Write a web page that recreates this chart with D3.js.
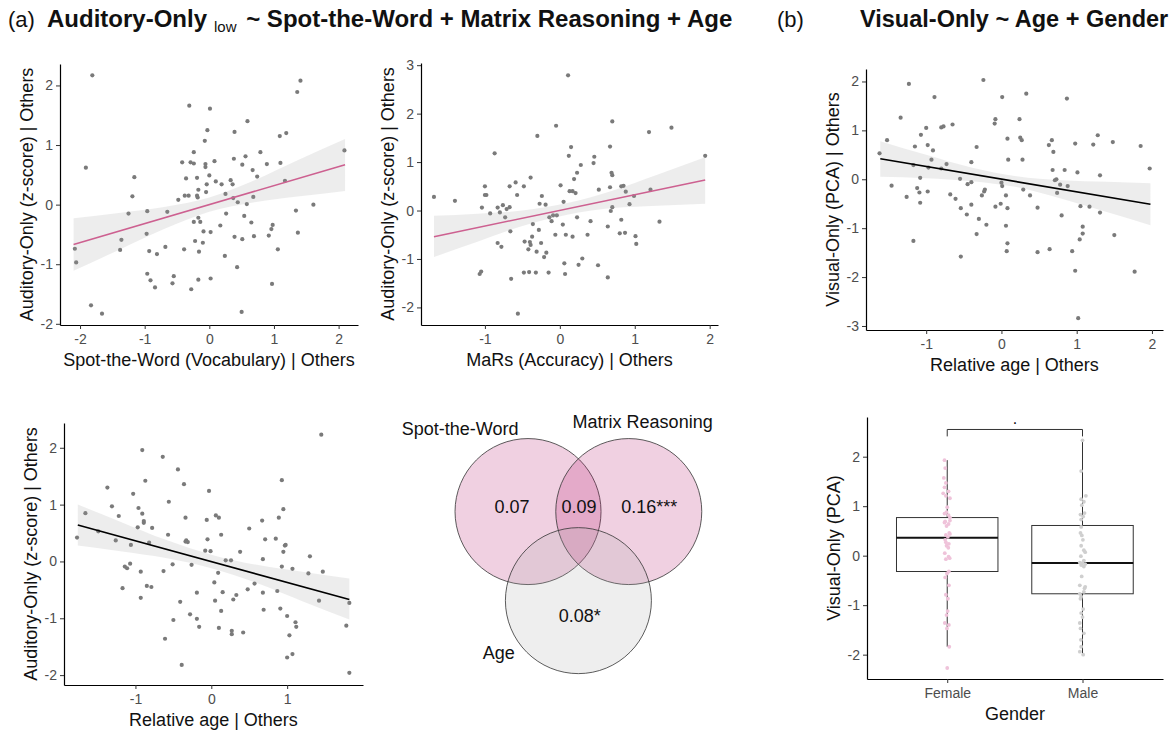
<!DOCTYPE html>
<html>
<head>
<meta charset="utf-8">
<script src="https://cdn.jsdelivr.net/npm/d3@7"></script>
<style>
  body { margin: 0; background: #fff; }
  svg text { font-family: "Liberation Sans", Arial, sans-serif; }
  .axis .domain { stroke: #000; stroke-width: 1.2; }
  .axis .tick line { stroke: #333; stroke-width: 1; }
  .axis .tick text { fill: #4d4d4d; font-size: 14px; }
</style>
</head>
<body>
<div id="chart"></div>
<script>
// ---- data ----

// (a) top left: Auditory-Only | Others vs Spot-the-Word | Others
var swX = [-1.81,-1.91,-1.16,-1.19,-1.25,-1.36,-1.38,-2.08,-2.06,-1.83,-1.66,-0.96,-0.97,-0.93,-0.81,-0.96,-0.91,-0.84,-0.65,-0.68,-0.55,-0.57,-0.48,-0.42,-0.39,-0.36,-0.38,-0.32,-0.31,-0.29,-0.28,-0.24,-0.24,-0.24,-0.22,-0.19,-0.19,-0.18,-0.17,-0.17,-0.16,-0.14,-0.17,-0.10,-0.09,-0.07,-0.06,-0.06,-0.05,-0.04,-0.03,0.00,0.01,0.02,0.02,0.08,0.10,0.17,0.19,0.24,0.25,0.26,0.33,0.36,0.38,0.39,0.39,0.43,0.44,0.37,0.51,0.51,0.54,0.56,0.58,0.59,0.50,0.65,0.67,0.68,0.74,0.69,0.79,0.89,0.92,0.96,0.98,0.97,1.06,1.09,1.10,1.17,1.19,1.34,1.37,1.36,1.41,1.61,2.09];
var swY = [2.17,0.62,0.46,0.14,-0.15,-0.59,-0.76,-0.74,-0.97,-1.69,-1.83,-0.11,-0.49,-0.78,-0.83,-1.16,-1.27,-1.39,-0.12,-0.71,-1.20,-1.32,0.08,0.71,-0.75,0.44,0.15,0.15,1.66,0.71,-1.42,0.88,0.69,-0.29,-0.61,0.45,0.15,0.12,0.25,-0.22,-0.79,-0.29,-1.26,-0.64,-0.45,1.07,0.68,0.63,0.21,0.34,1.25,0.49,1.61,-0.46,-1.24,0.73,0.39,-0.35,0.34,-0.86,0.18,-0.15,0.41,0.34,0.77,1.22,-0.54,-1.05,0.04,0.11,-0.58,0.67,-0.19,0.81,0.01,1.40,-1.80,-0.30,0.58,0.13,0.47,-0.53,0.88,0.68,-0.52,-0.41,-0.34,-1.33,-0.75,1.15,0.70,0.40,1.20,-0.10,-0.47,1.89,2.08,0.00,0.91];
var swFitX = [-2.1, 2.1], swFitY = [-0.67, 0.67];
var swBandX  = [-2.1, -1.4, -0.7, 0, 0.7, 1.4, 2.1];
var swBandLo = [-1.11, -0.76, -0.41, -0.12, 0.04, 0.14, 0.23];
var swBandHi = [-0.23, -0.14, -0.04, 0.12, 0.41, 0.76, 1.10];

// (a) top middle: vs MaRs (Accuracy) | Others
var marsX = [-1.68,-1.40,-1.04,-1.00,-1.00,-0.98,-0.93,-0.87,-0.83,-0.83,-0.80,-0.78,-0.76,-0.73,-0.71,-0.67,-0.67,-0.66,-0.65,-1.07,-1.05,-0.59,-0.57,-0.56,-0.48,-0.48,-0.47,-0.42,-0.41,-0.40,-0.39,-0.39,-0.37,-0.36,-0.32,-0.31,-0.30,-0.28,-0.27,-0.25,-0.24,-0.21,-0.19,-0.18,-0.15,-0.14,-0.11,-0.09,-0.06,-0.05,-0.04,0.01,0.04,0.05,0.06,0.07,0.08,0.11,0.12,0.13,0.15,0.17,0.17,0.19,0.21,0.23,0.23,0.25,0.28,0.30,0.37,0.41,0.45,0.46,0.51,0.52,0.64,0.64,0.67,0.67,0.68,0.69,0.70,0.70,0.70,0.80,0.82,0.82,0.85,0.87,0.88,0.93,0.99,1.01,1.02,1.19,1.21,1.33,1.49,1.94];
var marsY = [0.28,0.20,0.06,0.50,0.32,0.32,-0.06,1.18,0.06,-0.67,-0.04,-0.75,0.11,-0.14,0.03,0.07,0.50,-0.43,-1.41,-1.31,-1.26,0.58,0.32,-2.13,0.50,-1.28,-0.64,-0.80,-1.27,-0.65,-0.71,0.68,-0.54,-0.28,-1.28,-0.85,1.54,-0.40,0.14,-0.67,0.30,-0.96,0.12,-0.87,-1.28,-0.14,-0.22,-0.10,-0.50,1.75,-0.10,0.52,-0.29,0.18,-1.09,-1.31,-0.50,2.79,1.13,0.40,1.31,0.40,-0.54,0.65,0.36,0.78,-0.14,-1.12,0.94,-0.99,-0.50,-0.22,0.98,1.11,-1.13,0.43,-0.33,-1.38,0.48,1.32,-0.01,0.78,0.73,0.07,1.84,-0.47,-0.19,0.50,0.51,-0.46,0.39,0.13,0.30,-0.53,-0.69,1.62,0.43,-0.23,1.71,1.13];
var marsFitX = [-1.68, 1.94], marsFitY = [-0.54, 0.63];
var marsBandX  = [-1.68, -1.1, -0.5, 0.1, 0.7, 1.3, 1.94];
var marsBandLo = [-0.96, -0.645, -0.32, -0.085, 0.05, 0.10, 0.14];
var marsBandHi = [-0.11, -0.065, 0.00, 0.155, 0.41, 0.74, 1.10];

// (b) top: Visual-Only (PCA) | Others vs Relative age | Others
var visAgeX = [-1.62,-1.52,-1.46,-1.34,-1.26,-1.23,-1.17,-1.17,-1.15,-1.12,-1.09,-1.08,-1.08,-1.07,-1.00,-0.98,-0.98,-0.97,-0.93,-0.91,-0.89,-0.80,-0.77,-0.80,-0.73,-0.68,-0.65,-0.61,-0.55,-0.54,-0.54,-0.46,-0.45,-0.33,-0.40,-0.40,-0.40,-0.33,-0.30,-0.26,-0.24,-0.23,-0.22,-0.20,-0.09,-0.08,-0.08,-0.01,0.00,0.01,0.01,0.06,0.07,0.08,0.08,0.08,0.09,0.06,0.24,0.25,0.27,0.28,0.29,0.33,0.38,0.48,0.48,0.63,0.64,0.67,0.68,0.69,0.71,0.73,0.74,0.78,0.80,0.84,0.88,0.87,0.94,0.98,0.98,1.01,1.02,1.04,1.05,1.08,1.08,1.17,1.22,1.28,1.31,1.31,1.48,1.50,1.77,1.85,1.97];
var visAgeY = [0.53,0.80,-0.13,1.26,-0.36,1.95,-1.26,0.29,0.67,-0.18,-0.27,-0.48,0.03,0.91,1.05,-0.25,0.70,0.24,0.40,0.59,1.68,1.06,1.08,0.22,0.31,-0.31,1.12,-0.40,0.01,-0.59,-1.58,-0.72,-0.10,-1.12,-0.06,-0.52,0.35,0.66,-0.81,-0.33,2.03,-0.25,-0.21,-0.93,1.14,1.23,-0.56,-0.50,-0.07,-0.14,1.68,-0.33,-1.47,-0.59,-1.31,0.83,0.40,-0.95,1.23,0.85,0.80,0.40,-0.21,1.75,-0.33,-0.58,-1.49,0.70,-1.43,0.80,0.19,0.56,-0.02,0.00,-0.28,-0.11,-0.74,0.19,-0.14,1.65,-1.47,0.73,-1.87,0.14,-2.84,-1.23,-0.55,-0.97,-1.11,-0.56,0.71,0.90,-0.68,0.08,0.76,-1.14,-1.89,0.68,0.22];
var visAgeFitX = [-1.61, 1.98], visAgeFitY = [0.42, -0.51];
var visAgeBandX  = [-1.61, -1.0, -0.4, 0.2, 0.8, 1.4, 1.98];
var visAgeBandLo = [0.05, 0.02, -0.04, -0.16, -0.40, -0.67, -0.94];
var visAgeBandHi = [0.78, 0.50, 0.24, 0.06, -0.02, -0.05, -0.08];

// (a) bottom left: Auditory-Only | Others vs Relative age | Others
var audAgeX = [-1.77,-1.66,-1.49,-1.37,-1.31,-1.26,-1.22,-1.17,-1.14,-1.11,-1.07,-1.06,-1.03,-0.97,-0.96,-0.93,-0.93,-0.91,-0.91,-0.89,-0.89,-0.87,-0.85,-0.82,-0.79,-0.78,-0.64,-0.63,-0.61,-0.57,-0.56,-0.51,-0.50,-0.44,-0.41,-0.39,-0.36,-0.34,-0.34,-0.33,-0.31,-0.28,-0.26,-0.19,-0.19,-0.16,-0.08,-0.06,-0.05,-0.03,-0.01,0.04,0.05,0.06,0.10,0.09,0.10,0.13,0.13,0.15,0.19,0.26,0.27,0.27,0.29,0.33,0.38,0.42,0.48,0.50,0.57,0.67,0.68,0.68,0.69,0.71,0.85,0.87,0.89,0.91,0.93,0.93,0.95,0.95,0.97,0.98,1.00,1.00,1.03,1.07,1.07,1.11,1.12,1.28,1.30,1.42,1.45,1.47,1.78,1.82,1.82];
var audAgeY = [0.42,0.85,0.53,1.30,0.97,0.37,0.80,-0.47,-0.09,-0.12,-0.04,0.29,1.19,0.60,0.94,-0.18,-0.64,1.96,0.84,0.68,0.71,1.42,-0.43,0.33,-0.45,0.59,1.84,-0.17,-1.36,0.47,1.05,-0.05,-1.03,1.62,-0.71,-1.82,1.36,0.77,0.35,0.37,0.34,-0.93,-0.06,-1.01,-0.55,-1.15,0.19,0.73,0.39,1.24,0.18,-0.37,-0.69,0.81,0.77,-0.20,-1.17,0.47,-0.87,-0.54,0.02,0.02,-1.22,-1.28,-0.67,-0.59,0.17,-1.25,-0.49,0.58,-0.39,0.72,0.04,-0.55,-0.85,0.39,0.40,-0.52,0.77,-0.83,1.43,-0.09,0.92,0.17,0.28,0.29,-0.96,-1.69,-1.30,-1.63,-0.13,-1.07,-1.15,-0.21,0.09,-0.69,2.23,-0.18,-1.13,-0.73,-1.96];
var audAgeFitX = [-1.76, 1.82], audAgeFitY = [0.64, -0.67];
var audAgeBandX  = [-1.76, -1.2, -0.6, 0, 0.6, 1.2, 1.82];
var audAgeBandLo = [0.28, 0.18, 0.06, -0.12, -0.38, -0.70, -1.02];
var audAgeBandHi = [1.00, 0.70, 0.38, 0.12, -0.06, -0.18, -0.30];

// (a) Venn of unique / shared variance
var vennSets   = ["Spot-the-Word", "Matrix Reasoning", "Age"];
var vennValues = ["0.07", "0.09", "0.16***", "0.08*"];

// (b) bottom: Visual-Only (PCA) by gender
var genders = ["Female", "Male"];
var boxLow  = [-1.84, -2.00];
var boxQ1   = [-0.32, -0.77];
var boxMed  = [0.36, -0.15];
var boxQ3   = [0.77, 0.61];
var boxHigh = [1.93, 2.33];
var femaleVals = [1.93,1.77,1.57,1.47,1.38,1.30,1.26,1.21,1.16,0.98,0.88,0.85,0.82,0.77,0.71,0.69,0.67,0.64,0.60,0.46,0.44,0.42,0.38,0.32,0.27,0.24,0.20,0.16,0.05,-0.02,-0.05,-0.07,-0.32,-0.36,-0.44,-0.60,-0.79,-0.87,-1.12,-1.20,-1.36,-1.40,-1.47,-1.84,-2.27];
var femaleJitter = [-0.02,-0.015,-0.025,-0.01,-0.02,0.01,-0.03,-0.01,0.02,0,-0.005,-0.02,0.01,0.02,0.02,-0.015,-0.02,0.01,-0.005,0.015,0.02,-0.01,0.005,-0.015,-0.01,0.012,-0.005,0.008,-0.018,0.01,0.018,-0.01,0.012,-0.002,-0.015,0.013,-0.01,0.005,0.003,-0.005,-0.018,0.012,-0.002,0.015,0];
var maleVals = [2.33,1.71,1.21,1.14,1.09,1.02,0.86,0.83,0.79,0.73,0.58,0.46,0.41,0.32,0.20,0.11,0.07,-0.01,-0.10,-0.14,-0.15,-0.17,-0.19,-0.22,-0.42,-0.60,-0.63,-0.66,-0.73,-0.77,-0.83,-0.87,-1.08,-1.16,-1.24,-1.36,-1.47,-1.57,-1.70,-1.84,-1.94,-2.00];
var maleJitter = [0,-0.01,0.025,-0.01,0.01,-0.005,0.015,-0.015,0.005,-0.01,-0.01,-0.015,-0.005,0.003,-0.01,0.01,0.02,-0.012,0.01,-0.02,0,0.02,-0.01,0.01,-0.006,-0.02,0.02,0.015,0.01,-0.02,-0.01,-0.015,0.005,-0.01,0,-0.02,-0.015,0.01,-0.012,-0.01,-0.02,0.005];
var sigBracket = 2.55, sigTip = 2.41, sigLabelY = 2.71, sigLabel = ".";

// ---- drawing ----

var W = 1174, H = 730;
var svg = d3.select("#chart").append("svg")
  .attr("width", W).attr("height", H)
  .style("background", "#fff");

var fmt = function(d) { return String(d); };   // ggplot style "-1", not unicode minus

function axes(g, x, y, box, xTicks, yTicks, xFormat) {
  g.append("g")
    .attr("class", "axis")
    .attr("transform", "translate(0," + box.y1 + ")")
    .call(d3.axisBottom(x).tickValues(xTicks).tickFormat(xFormat || fmt)
      .tickSize(4).tickPadding(5).tickSizeOuter(0));
  g.append("g")
    .attr("class", "axis")
    .attr("transform", "translate(" + box.x0 + ",0)")
    .call(d3.axisLeft(y).tickValues(yTicks).tickFormat(fmt)
      .tickSize(4).tickPadding(3).tickSizeOuter(0));
}

function titles(g, box, xTitle, yTitle) {
  g.append("text")
    .attr("x", (box.x0 + box.x1) / 2).attr("y", box.y1 + 41)
    .attr("text-anchor", "middle")
    .style("font-size", "18px").style("fill", "#111")
    .text(xTitle);
  var cy = (box.y0 + box.y1) / 2;
  g.append("text")
    .attr("transform", "translate(" + (box.x0 - 27) + "," + cy + ") rotate(-90)")
    .attr("text-anchor", "middle")
    .style("font-size", "18px").style("fill", "#111")
    .text(yTitle);
}

function scatter(cfg) {
  var box = cfg.box;
  var x = d3.scaleLinear().domain(cfg.xDomain).range([box.x0, box.x1]);
  var y = d3.scaleLinear().domain(cfg.yDomain).range([box.y1, box.y0]);
  var g = svg.append("g");

  g.selectAll(".pt")
    .data(d3.range(cfg.xs.length))
    .enter().append("circle")
    .attr("cx", function(i) { return x(cfg.xs[i]); })
    .attr("cy", function(i) { return y(cfg.ys[i]); })
    .attr("r", 2.1)
    .attr("fill", "#7a7a7a");

  var area = d3.area()
    .x(function(i) { return x(cfg.bandX[i]); })
    .y0(function(i) { return y(cfg.bandLo[i]); })
    .y1(function(i) { return y(cfg.bandHi[i]); })
    .curve(d3.curveMonotoneX);
  g.append("path")
    .attr("d", area(d3.range(cfg.bandX.length)))
    .attr("fill", "#999").attr("fill-opacity", 0.18);

  g.append("line")
    .attr("x1", x(cfg.fitX[0])).attr("y1", y(cfg.fitY[0]))
    .attr("x2", x(cfg.fitX[1])).attr("y2", y(cfg.fitY[1]))
    .attr("stroke", cfg.lineColor).attr("stroke-width", 1.6);

  axes(g, x, y, box, cfg.xTicks, cfg.yTicks);
  titles(g, box, cfg.xTitle, cfg.yTitle);
}

scatter({
  box: {x0: 60, x1: 358, y0: 64, y1: 325},
  xDomain: [-2.31, 2.30], yDomain: [-2.02, 2.36],
  xTicks: [-2, -1, 0, 1, 2], yTicks: [-2, -1, 0, 1, 2],
  xs: swX, ys: swY, fitX: swFitX, fitY: swFitY,
  bandX: swBandX, bandLo: swBandLo, bandHi: swBandHi,
  lineColor: "#cd6090",
  xTitle: "Spot-the-Word (Vocabulary) | Others",
  yTitle: "Auditory-Only (z-score) | Others"
});

scatter({
  box: {x0: 421, x1: 718, y0: 63, y1: 325},
  xDomain: [-1.853, 2.111], yDomain: [-2.363, 3.045],
  xTicks: [-1, 0, 1, 2], yTicks: [-2, -1, 0, 1, 2, 3],
  xs: marsX, ys: marsY, fitX: marsFitX, fitY: marsFitY,
  bandX: marsBandX, bandLo: marsBandLo, bandHi: marsBandHi,
  lineColor: "#cd6090",
  xTitle: "MaRs (Accuracy) | Others",
  yTitle: "Auditory-Only (z-score) | Others"
});

scatter({
  box: {x0: 866, x1: 1163, y0: 69, y1: 330},
  xDomain: [-1.80, 2.147], yDomain: [-3.082, 2.255],
  xTicks: [-1, 0, 1, 2], yTicks: [-3, -2, -1, 0, 1, 2],
  xs: visAgeX, ys: visAgeY, fitX: visAgeFitX, fitY: visAgeFitY,
  bandX: visAgeBandX, bandLo: visAgeBandLo, bandHi: visAgeBandHi,
  lineColor: "#000",
  xTitle: "Relative age | Others",
  yTitle: "Visual-Only (PCA) | Others"
});

scatter({
  box: {x0: 64, x1: 363, y0: 423, y1: 685},
  xDomain: [-1.942, 2.0], yDomain: [-2.174, 2.436],
  xTicks: [-1, 0, 1], yTicks: [-2, -1, 0, 1, 2],
  xs: audAgeX, ys: audAgeY, fitX: audAgeFitX, fitY: audAgeFitY,
  bandX: audAgeBandX, bandLo: audAgeBandLo, bandHi: audAgeBandHi,
  lineColor: "#000",
  xTitle: "Relative age | Others",
  yTitle: "Auditory-Only (z-score) | Others"
});

// ---- Venn (unit = circle radius) ----
(function() {
  var vx = d3.scaleLinear().domain([-1, 1]).range([578.4 - 73, 578.4 + 73]);
  var vy = d3.scaleLinear().domain([-1, 1]).range([541.5 - 73, 541.5 + 73]);
  var r = vx(1) - vx(0);
  var circles = [
    {cx: -0.69, cy: -0.41, fill: "#b41469"},
    {cx: 0.69, cy: -0.41, fill: "#b41469"},
    {cx: 0, cy: 0.81, fill: "#aaaaaa"}
  ];
  var g = svg.append("g");
  g.selectAll("circle.set")
    .data(circles)
    .enter().append("circle")
    .attr("cx", function(d) { return vx(d.cx); })
    .attr("cy", function(d) { return vy(d.cy); })
    .attr("r", r)
    .attr("fill", function(d) { return d.fill; })
    .attr("fill-opacity", 0.2)
    .attr("stroke", "#333").attr("stroke-width", 0.8);

  var setPos = [[-1.62, -1.55], [0.88, -1.64], [-1.09, 1.53]];
  g.selectAll("text.setname")
    .data(vennSets)
    .enter().append("text")
    .attr("x", function(d, i) { return vx(setPos[i][0]); })
    .attr("y", function(d, i) { return vy(setPos[i][1]); })
    .attr("dy", "0.35em")
    .attr("text-anchor", "middle")
    .style("font-size", "18px").style("fill", "#111")
    .text(function(d) { return d; });

  var valPos = [[-0.91, -0.47], [0.01, -0.47], [0.97, -0.47], [0.02, 1.02]];
  g.selectAll("text.val")
    .data(vennValues)
    .enter().append("text")
    .attr("x", function(d, i) { return vx(valPos[i][0]); })
    .attr("y", function(d, i) { return vy(valPos[i][1]); })
    .attr("dy", "0.35em")
    .attr("text-anchor", "middle")
    .style("font-size", "18px").style("fill", "#111")
    .text(function(d) { return d; });
})();

// ---- boxplot by gender ----
(function() {
  var box = {x0: 867, x1: 1163, y0: 417, y1: 679};
  var x = d3.scaleLinear().domain([0.407, 2.595]).range([box.x0, box.x1]);
  var y = d3.scaleLinear().domain([-2.492, 2.802]).range([box.y1, box.y0]);
  var g = svg.append("g");
  var half = 0.375;

  genders.forEach(function(name, i) {
    var c = i + 1;
    g.append("line")
      .attr("x1", x(c)).attr("x2", x(c))
      .attr("y1", y(boxQ3[i])).attr("y2", y(boxHigh[i]))
      .attr("stroke", "#333").attr("stroke-width", 1);
    g.append("line")
      .attr("x1", x(c)).attr("x2", x(c))
      .attr("y1", y(boxQ1[i])).attr("y2", y(boxLow[i]))
      .attr("stroke", "#333").attr("stroke-width", 1);
    g.append("rect")
      .attr("x", x(c - half)).attr("width", x(c + half) - x(c - half))
      .attr("y", y(boxQ3[i])).attr("height", y(boxQ1[i]) - y(boxQ3[i]))
      .attr("fill", "#fff").attr("stroke", "#333").attr("stroke-width", 1);
    g.append("line")
      .attr("x1", x(c - half)).attr("x2", x(c + half))
      .attr("y1", y(boxMed[i])).attr("y2", y(boxMed[i]))
      .attr("stroke", "#111").attr("stroke-width", 2);
  });

  var groups = [
    {c: 1, vals: femaleVals, jit: femaleJitter, color: "#efc3da"},
    {c: 2, vals: maleVals, jit: maleJitter, color: "#cfcfcf"}
  ];
  groups.forEach(function(grp) {
    g.selectAll(null)
      .data(d3.range(grp.vals.length))
      .enter().append("circle")
      .attr("cx", function(i) { return x(grp.c + grp.jit[i]); })
      .attr("cy", function(i) { return y(grp.vals[i]); })
      .attr("r", 1.9)
      .attr("fill", grp.color);
  });

  // significance bracket
  g.append("path")
    .attr("d", d3.line()([
      [x(1), y(sigTip)], [x(1), y(sigBracket)],
      [x(2), y(sigBracket)], [x(2), y(sigTip)]
    ]))
    .attr("fill", "none").attr("stroke", "#333").attr("stroke-width", 1);
  g.append("text")
    .attr("x", x(1.5)).attr("y", y(sigLabelY) + 2)
    .attr("text-anchor", "middle")
    .style("font-size", "16px").style("fill", "#111")
    .text(sigLabel);

  axes(g, x, y, box, [1, 2], [-2, -1, 0, 1, 2], function(d) { return genders[d - 1]; });
  titles(g, box, "Gender", "Visual-Only (PCA)");
})();

// ---- panel headings ----
svg.append("text").attr("x", 8).attr("y", 27)
  .style("font-size", "22px").style("fill", "#111").text("(a)");
var ta = svg.append("text").attr("x", 47).attr("y", 27)
  .style("font-size", "24px").style("font-weight", "bold").style("fill", "#111");
ta.append("tspan").text("Auditory-Only");
ta.append("tspan").attr("dx", 7).attr("dy", 5).style("font-size", "15px").style("font-weight", "normal").text("low");
ta.append("tspan").attr("dx", 3).attr("dy", -5).text(" ~ Spot-the-Word + Matrix Reasoning + Age");

svg.append("text").attr("x", 777).attr("y", 27)
  .style("font-size", "22px").style("fill", "#111").text("(b)");
svg.append("text").attr("x", 860).attr("y", 27)
  .style("font-size", "23.5px").style("font-weight", "bold").style("fill", "#111")
  .text("Visual-Only ~ Age + Gender");
</script>
</body>
</html>
